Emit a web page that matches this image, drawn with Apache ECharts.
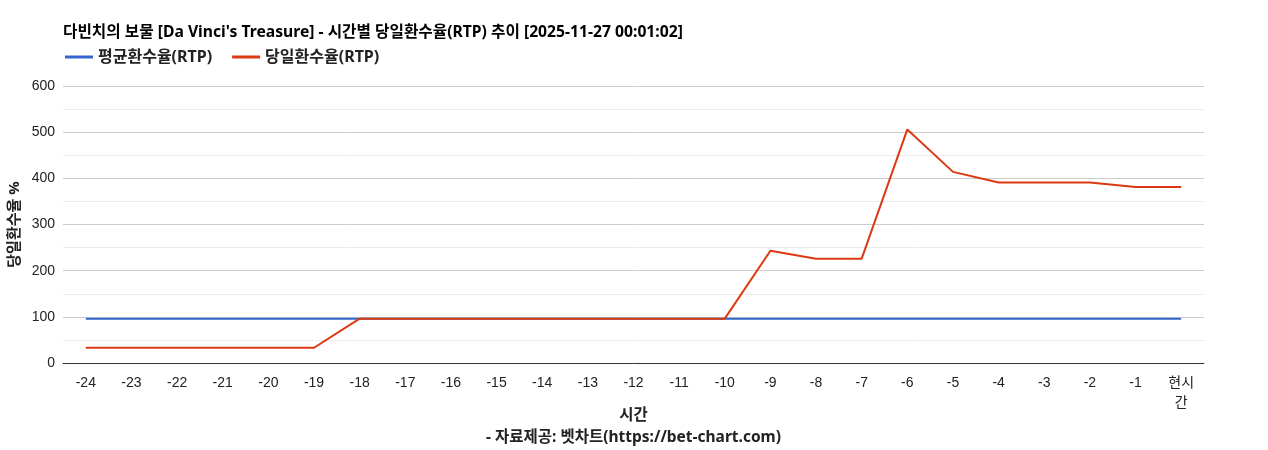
<!DOCTYPE html>
<html>
<head>
<meta charset="utf-8">
<script src="https://cdn.jsdelivr.net/npm/echarts@6/dist/echarts.min.js"></script>
<style>
	html, body { margin: 0; padding: 0; background: #fff; }
	#chart { width: 1268px; height: 450px; }
</style>
</head>
<body>
<div id="chart"></div>
<script>
var hours = ['-24', '-23', '-22', '-21', '-20', '-19', '-18', '-17', '-16', '-15', '-14', '-13',
	'-12', '-11', '-10', '-9', '-8', '-7', '-6', '-5', '-4', '-3', '-2', '-1', '현시간'];
var avgRtp = [96, 96, 96, 96, 96, 96, 96, 96, 96, 96, 96, 96,
	96, 96, 96, 96, 96, 96, 96, 96, 96, 96, 96, 96, 96];
var dayRtp = [33, 33, 33, 33, 33, 33, 96, 96, 96, 96, 96, 96,
	96, 96, 96, 243, 226, 226, 506, 414, 391, 391, 391, 381, 381];
var yTicks = [0, 100, 200, 300, 400, 500, 600];

var boldFont = '"Noto Sans", "Noto Sans CJK KR", sans-serif';
var tickFont = '"Liberation Sans", Arial, "Noto Sans CJK KR", sans-serif';
var myChart = echarts.init(document.getElementById('chart'));
var option = {
	animation: false,
	textStyle: { fontFamily: tickFont },
	title: {
		text: "다빈치의 보물 [Da Vinci's Treasure] - 시간별 당일환수율(RTP) 추이 [2025-11-27 00:01:02]",
		left: 58,
		top: 20,
		textStyle: { fontSize: 15.7, fontWeight: 'bold', color: '#000', fontFamily: boldFont }
	},
	legend: {
		left: 60,
		top: 44,
		itemWidth: 28,
		itemHeight: 3,
		itemGap: 20,
		icon: 'rect',
		textStyle: { fontSize: 16, fontWeight: 'bold', color: '#222', fontFamily: boldFont },
		data: ['평균환수율(RTP)', '당일환수율(RTP)']
	},
	grid: {
		left: 63,
		right: 64,
		top: 86,
		bottom: 87,
		containLabel: false,
		outerBoundsMode: 'none'
	},
	xAxis: {
		type: 'category',
		boundaryGap: true,
		data: hours,
		name: '시간\n- 자료제공: 벳차트(https://bet-chart.com)',
		nameLocation: 'middle',
		nameGap: 42,
		nameMoveOverlap: false,
		nameTextStyle: { fontSize: 15.5, fontWeight: 'bold', color: '#222', lineHeight: 22, fontFamily: boldFont },
		axisLine: { lineStyle: { color: '#333' } },
		axisTick: { show: false },
		axisLabel: {
			color: '#222',
			fontSize: 14,
			margin: 10,
			lineHeight: 20,
			interval: 0,
			formatter: function(v) {
				return v == '현시간' ? '현시\n간' : v;
			}
		}
	},
	yAxis: {
		type: 'value',
		min: yTicks[0],
		max: yTicks[yTicks.length - 1],
		interval: 100,
		name: '당일환수율 %',
		nameLocation: 'middle',
		nameRotate: 90,
		nameGap: 41,
		nameMoveOverlap: false,
		nameTextStyle: { fontSize: 15, fontWeight: 'bold', color: '#222', fontFamily: boldFont },
		axisLine: { show: false },
		axisTick: { show: false },
		axisLabel: { color: '#222', fontSize: 14, margin: 8 },
		splitLine: { lineStyle: { color: '#ccc' } },
		minorTick: { show: false, splitNumber: 2 },
		minorSplitLine: { show: true, lineStyle: { color: '#ebebeb' } }
	},
	series: [{
			name: '평균환수율(RTP)',
			type: 'line',
			data: avgRtp,
			symbol: 'none',
			color: '#3366cc',
			lineStyle: { width: 2, color: '#3366cc' }
		},
		{
			name: '당일환수율(RTP)',
			type: 'line',
			data: dayRtp,
			symbol: 'none',
			color: '#dc3912',
			lineStyle: { width: 2, color: '#dc3912' }
		}
	]
};
myChart.setOption(option);
</script>
</body>
</html>
